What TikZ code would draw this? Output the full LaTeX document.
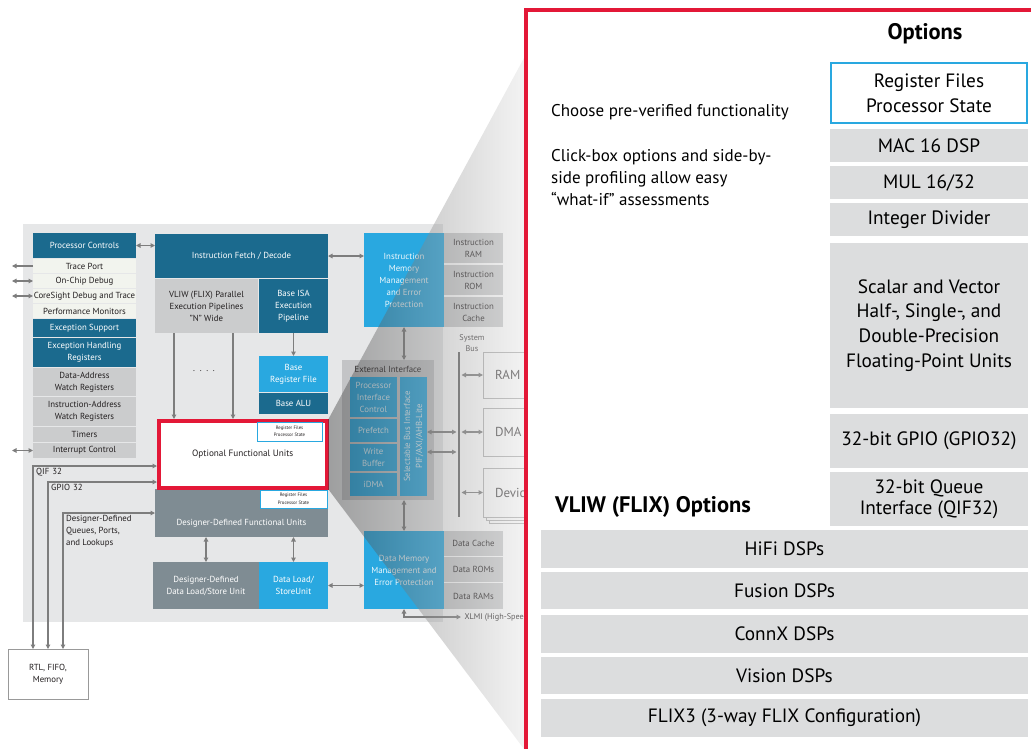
\documentclass[tikz,border=0pt]{standalone}
\usepackage{fontspec}
\setmainfont{PT Sans}
\usetikzlibrary{arrows.meta,positioning}

\definecolor{dkblue}{HTML}{1B6A8E}
\definecolor{ltblue}{HTML}{29A8E0}
\definecolor{bggray}{HTML}{E6E7E8}
\definecolor{boxgray}{HTML}{CBCCCD}
\definecolor{palegray}{HTML}{F2F4EE}
\definecolor{slategray}{HTML}{7F8C93}
\definecolor{extgray}{HTML}{C3C4C6}
\definecolor{optgray}{HTML}{DCDDDE}
\definecolor{arrgray}{HTML}{7D7D7D}
\definecolor{tyred}{HTML}{E31837}
\definecolor{ink}{HTML}{231F20}

\newcommand\dgfont{\fontsize{8.8}{12}\selectfont}
\newcommand\weefont{\fontsize{4.8}{6.5}\selectfont}
\newcommand\busfont{\fontsize{13}{14}\selectfont}
\newcommand\sysfont{\fontsize{8.2}{11.5}\selectfont}
\newcommand\optfont{\fontsize{19.3}{24.8}\selectfont}
\newcommand\headfont{\fontsize{22.5}{26}\selectfont\bfseries}
\newcommand\notefont{\fontsize{17}{22}\selectfont}

\begin{document}
\begin{tikzpicture}[x=1pt,y=-1pt,
  blk/.style={anchor=north west,inner sep=0pt,outer sep=0pt,align=center,font=\dgfont},
  sz/.style 2 args={minimum width=#1,minimum height=#2},
  dkbox/.style={blk,fill=dkblue,text=white},
  ltbox/.style={blk,fill=ltblue,text=white},
  gybox/.style={blk,fill=boxgray,text=ink},
  plbox/.style={blk,fill=palegray,text=ink},
  slbox/.style={blk,fill=slategray,text=white},
  tagbox/.style={blk,fill=white,draw=ltblue,line width=0.9pt,font=\weefont,text=ink},
  busbox/.style={blk,fill=white,draw=gray!60,line width=0.6pt,font=\busfont,text=ink!85,
    text width=40,align=left,inner xsep=12},
  optbox/.style={blk,fill=optgray,font=\optfont,text=black,sz={198}{#1}},
  barbox/.style={blk,fill=optgray,font=\optfont,text=black,sz={487}{#1}},
  oneway/.style={-{Triangle[length=4.5pt,width=4.5pt]},draw=arrgray,line width=1.1pt},
  twoway/.style={{Triangle[length=4.5pt,width=4.5pt]}-{Triangle[length=4.5pt,width=4.5pt]},
    draw=arrgray,line width=1.1pt}
  ]
  \useasboundingbox (0,0) rectangle (1031,749);
  \fill[bggray] (23,224) rectangle (443,622);

  % left column
  \node[dkbox,sz={103}{25}] (pc) at (33,233) {Processor Controls};
  \node[plbox,sz={103}{14}] (tp) at (33,259) {Trace Port};
  \node[plbox,sz={103}{14}] (ocd) at (33,274) {On-Chip Debug};
  \node[plbox,sz={103}{14}] (cs) at (33,289) {CoreSight Debug and Trace};
  \node[plbox,sz={103}{14}] (pm) at (33,304) {Performance Monitors};
  \node[dkbox,sz={103}{18}] (es) at (33,319) {Exception Support};
  \node[dkbox,sz={103}{29}] (ehr) at (33,338) {Exception Handling\\Registers};
  \node[gybox,sz={103}{28}] (daw) at (33,368) {Data-Address\\Watch Registers};
  \node[gybox,sz={103}{29}] (iaw) at (33,397) {Instruction-Address\\Watch Registers};
  \node[gybox,sz={103}{15}] (tim) at (33,427) {Timers};
  \node[gybox,sz={103}{15}] (ic) at (33,443) {Interrupt Control};

  % core
  \node[dkbox,sz={173}{44}] (ifd) at (155,234) {Instruction Fetch / Decode};
  \node[gybox,sz={103}{54}] (vliw) at (155,279) {VLIW (FLIX) Parallel\\Execution Pipelines\\"N" Wide};
  \node[dkbox,sz={69}{54}] (bisa) at (259,279) {Base ISA\\Execution\\Pipeline};
  \node[ltbox,sz={69}{36}] (brf) at (259,356) {Base\\Register File};
  \node[dkbox,sz={69}{21}] (balu) at (259,393) {Base ALU};
  \node[font=\dgfont,text=ink] (dots) at (204,371) {.\ \ .\ \ .\ \ .};
  \node[slbox,sz={173}{48}] (ddfu) at (155,489) {};
  \node[font=\dgfont,text=white] (ddfutxt) at (241.5,523) {Designer-Defined Functional Units};
  \node[tagbox,sz={67}{18}] (rf2) at (260,490) {Register Files\\[1.5pt]Processor State};
  \node[slbox,sz={106}{47}] (ddls) at (153,562) {Designer-Defined\\Data Load/Store Unit};
  \node[ltbox,sz={69}{47}] (dlsu) at (259,562) {Data Load/\\StoreUnit};

  % memories and interface
  \node[ltbox,sz={80}{94},text=white!92!ltblue] (imm) at (364,233) {Instruction\\Memory\\Management\\and Error\\Protection};
  \node[gybox,sz={59}{30}] (iram) at (444,233) {Instruction\\RAM};
  \node[gybox,sz={59}{30}] (irom) at (444,265) {Instruction\\ROM};
  \node[gybox,sz={59}{30}] (icache) at (444,297) {Instruction\\Cache};
  \node[gybox,fill=extgray,sz={92}{140}] (ext) at (342,360) {};
  \node[font=\dgfont,text=ink] (exttxt) at (388,369) {External Interface};
  \node[ltbox,sz={47}{40},text=white!85!ltblue] (pic) at (350,377) {Processor\\Interface\\Control};
  \node[ltbox,sz={47}{23},text=white!85!ltblue] (pref) at (350,419) {Prefetch};
  \node[ltbox,sz={47}{27},text=white!85!ltblue] (wbuf) at (350,444) {Write\\Buffer};
  \node[ltbox,sz={47}{23},text=white!85!ltblue] (idma) at (350,473) {iDMA};
  \node[ltbox,anchor=center,rotate=90,sz={119}{27},text=white!85!ltblue] (sbi) at (413.5,436.5) {Selectable Bus Interface\\PIF/AXI/AHB-Lite};
  \node[ltbox,sz={80}{78},text=white!92!ltblue] (dmm) at (364,531) {Data Memory\\Management and\\Error Protection};
  \node[gybox,sz={59}{25}] (dcache) at (444,531) {Data Cache};
  \node[gybox,sz={59}{25}] (drom) at (444,557) {Data ROMs};
  \node[gybox,sz={59}{26}] (dram) at (444,583) {Data RAMs};

  % system bus
  \node[font=\sysfont,text=ink!85,align=center] (sysbus) at (472,343) {System\\Bus};
  \coordinate (bustop) at (459,352);
  \coordinate (busbot) at (459,517);
  \coordinate (busl) at (456.5,352);
  \coordinate (busr) at (461.5,352);
  \draw[draw=gray!80!black,line width=2.5pt] (bustop) -- (busbot);
  \node[busbox,sz={64}{46}] (ram) at (483,352) {RAM};
  \node[busbox,sz={64}{48}] (dma) at (483,408) {DMA};
  \node[busbox,sz={64}{49}] (devc) at (489,474) {};
  \node[busbox,sz={64}{49}] (devb) at (486,471) {};
  \node[busbox,sz={64}{49}] (dev) at (483,468) {Devices};
  \draw[twoway] (busr |- ram.west) -- (ram.west);
  \draw[twoway] (busr |- dma.west) -- (dma.west);
  \draw[twoway] (busr |- dev.west) -- (dev.west);
  \coordinate (sb1) at (427,432);
  \coordinate (sb2) at (427,452);
  \draw[twoway] (sb1) -- (sb1 -| busl);
  \draw[twoway] (sb2) -- (sb2 -| busl);

  % connectors
  \draw[twoway] (pc.east) -- (pc.east -| ifd.west);
  \draw[twoway] (ifd.east) -- (ifd.east -| imm.west);
  \draw[twoway] (imm.south) -- (imm.south |- ext.north);
  \draw[twoway] (dmm.north |- ext.south) -- (dmm.north);
  \draw[twoway] (dlsu.east) -- (dlsu.east -| dmm.west);
  \draw[oneway] (bisa.south) -- (brf.north);
  \draw[twoway] (ddls.north) -- (ddls.north |- ddfu.south);
  \draw[twoway] (dlsu.north) -- (dlsu.north |- ddfu.south);
  \node[font=\sysfont,text=ink,anchor=west] (xlmi) at (461,617) {XLMI (High-Speed};
  \draw[twoway] (dmm.south) |- (xlmi.west);

  % ports on the left
  \coordinate (edge) at (12,0);
  \draw[oneway] (tp.west) -- (tp.west -| edge);
  \draw[twoway] (ocd.west) -- (ocd.west -| edge);
  \draw[twoway] (cs.west) -- (cs.west -| edge);
  \draw[twoway] (ic.west) -- (ic.west -| edge);

  % optional units
  \node[blk,draw=tyred,fill=white,line width=3.5pt,outer sep=1.75pt,sz={168}{67},font=\fontsize{9.2}{10}\selectfont,text=ink] (ofu) at (157,419) {Optional Functional Units};
  \node[tagbox,sz={65}{19}] (rf1) at (257,422) {Register Files\\Processor State};
  \draw[oneway] ([xshift=-32.5pt]vliw.south) -- ([xshift=-32.5pt]vliw.south |- ofu.north);
  \draw[oneway] ([xshift=26.5pt]vliw.south) -- ([xshift=26.5pt]vliw.south |- ofu.north);

  % external connections
  \node[blk,fill=white,draw=gray!80,line width=0.6pt,sz={80}{50},text=ink] (rtl) at (8,649) {RTL, FIFO,\\Memory};
  \coordinate (qif) at (33,466);
  \coordinate (gpio) at (48,482);
  \coordinate (ddq) at (63,513);
  \draw[twoway] (qif -| ofu.west) -- (qif) -- (qif |- rtl.north);
  \draw[twoway] (gpio -| ofu.west) -- (gpio) -- (gpio |- rtl.north);
  \draw[twoway] (ddq -| ddfu.west) -- (ddq) -- (ddq |- rtl.north);
  \node[font=\dgfont,text=ink,anchor=north west,inner sep=0pt] (qiftxt) at (36,468) {QIF\,\,32};
  \node[font=\dgfont,text=ink,anchor=north west,inner sep=0pt] (gpiotxt) at (51,484) {GPIO\,\,32};
  \node[font=\dgfont,text=ink,anchor=north west,inner sep=0pt,align=left] (ddqtxt) at (66,515) {Designer-Defined\\Queues, Ports,\\and Lookups};

  % zoom wedge
  \shade[left color=black!80,right color=black!12,opacity=0.4]
    (ofu.north east) -- (524,58) -- (524,749) -- (ofu.south east) -- cycle;

  % options panel
  \draw[tyred,line width=4pt,fill=white] (526,10) rectangle (1045,765);
  \node[font=\headfont] (opts) at (925,34) {Options};
  \node[blk,fill=white,draw=ltblue,line width=2pt,sz={196}{60},font=\optfont] (rfps) at (831,63) {Register Files\\Processor State};
  \node[optbox=33] (mac) at (830,129) {MAC 16 DSP};
  \node[optbox=33] (mul) at (830,166) {MUL 16/32};
  \node[optbox=33] (idiv) at (830,203) {Integer Divider};
  \node[optbox=165] (fpu) at (830,243) {Scalar and Vector\\Half-, Single-, and\\Double-Precision\\Floating-Point Units};
  \node[optbox=54] (gpio32) at (830,414) {32-bit GPIO (GPIO32)};
  \node[optbox=54] (qif32) at (830,472) {32-bit Queue\\[-4pt]Interface (QIF32)};
  \node[font=\headfont,anchor=west,inner sep=0pt] (vliwopt) at (555,507) {VLIW (FLIX) Options};
  \node[barbox=38] (hifi) at (541,530) {HiFi DSPs};
  \node[barbox=37] (fusion) at (541,572) {Fusion DSPs};
  \node[barbox=38] (connx) at (541,615) {ConnX DSPs};
  \node[barbox=37] (vision) at (541,657) {Vision DSPs};
  \node[barbox=38] (flix3) at (541,699) {FLIX3 (3-way FLIX Configuration)};
  \node[font=\notefont,anchor=west,inner sep=0pt] (choose) at (551,112) {Choose pre-verified functionality};
  \node[font=\notefont,anchor=north west,inner sep=0pt,align=left] (click) at (551,149) {Click-box options and side-by-\\side profiling allow easy\\“what-if” assessments};
\end{tikzpicture}
\end{document}
